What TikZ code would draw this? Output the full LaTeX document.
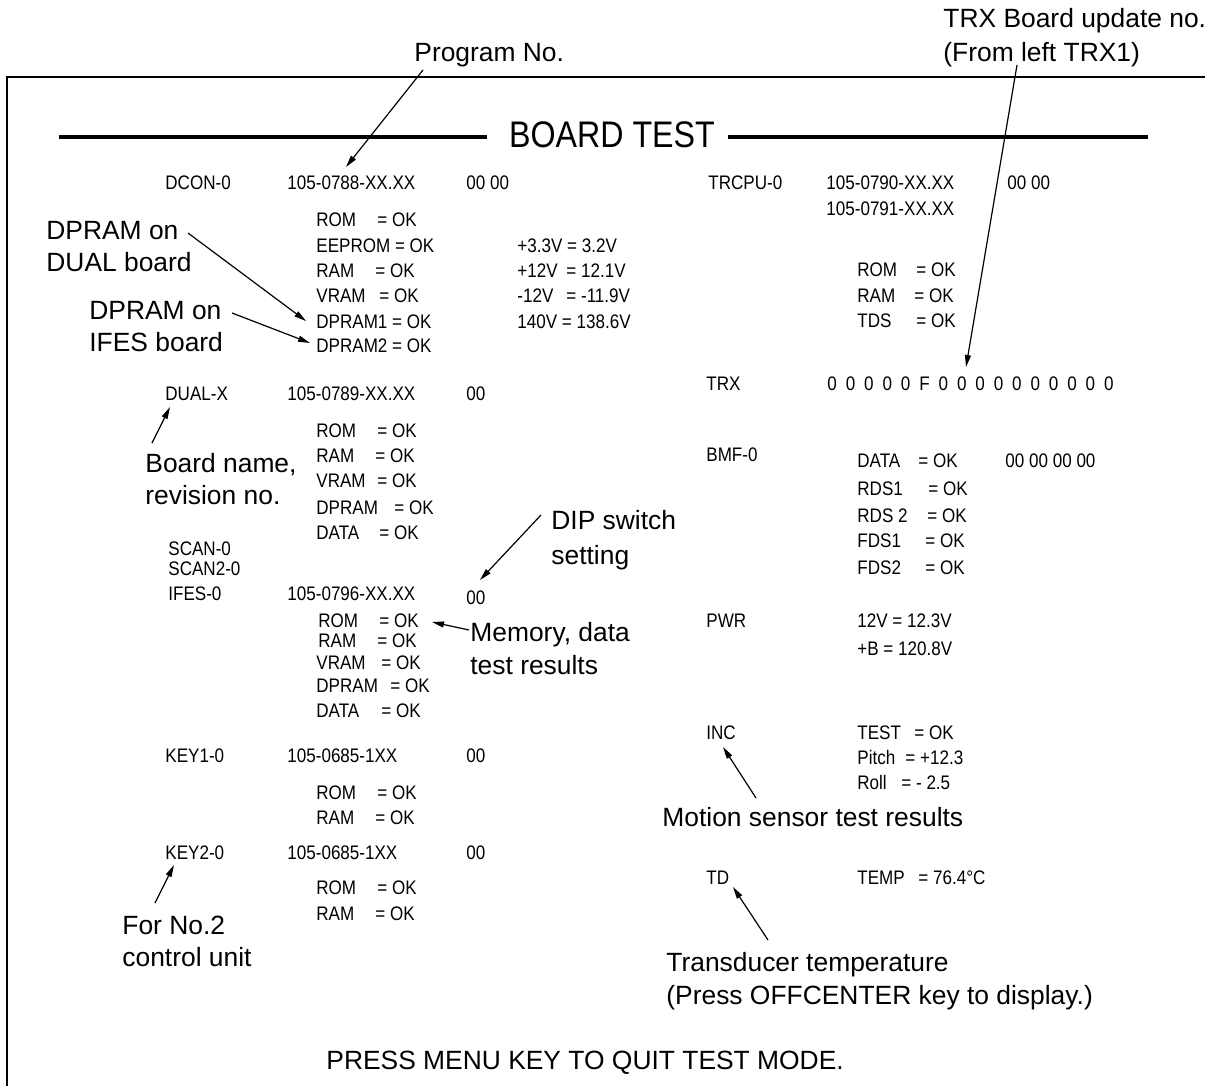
\documentclass[tikz,border=0pt]{standalone}
\usepackage{fontspec}
\setmainfont{Liberation Sans}
\newfontfamily\scrfont[FakeStretch=0.87]{Liberation Sans}
\usetikzlibrary{arrows.meta}

\newdimen\pxunit \pxunit=0.5pt
\newcommand{\kv}[3]{\makebox[#2\pxunit][l]{#1}= #3}

\begin{document}
\begin{tikzpicture}[x=0.5pt, y=-0.5pt,
    scr/.style={anchor=base west, inner sep=0pt, yshift=-3.5pt, font=\scrfont\fontsize{9.8}{12}\selectfont},
    note/.style={anchor=base west, inner sep=0pt, yshift=-4.7pt, font=\fontsize{13.2}{16}\selectfont},
    pointer/.style={-{Triangle[length=6pt,width=3pt]}, line width=0.6pt},
    rule/.style={line width=2pt}]
    \useasboundingbox (0,0) rectangle (1205,1086);

    % Frame
    \draw[line width=0.75pt] (7,1086) -- (7,77) -- (1205,77);

    % Title
    \node[anchor=base, inner sep=0pt, yshift=-6.6pt, font=\scrfont\fontsize{18.5}{22}\selectfont] (title) at (612,134) {BOARD TEST};
    \draw[rule] (59,137) -- (487,137);
    \draw[rule] (728,137) -- (1148,137);

    % DCON board
    \node[scr] (dcon) at (165,183) {DCON-0};
    \node[scr] (dconpn) at (287,183) {105-0788-XX.XX};
    \node[scr] (dconsw) at (466,183) {00 00};
    \node[scr] (dconrom) at (316,220) {\kv{ROM}{61}{OK}};
    \node[scr] (dconeep) at (316,245) {EEPROM = OK};
    \node[scr] (dconram) at (316,270) {\kv{RAM}{59}{OK}};
    \node[scr] (dconvram) at (316,295) {\kv{VRAM}{63}{OK}};
    \node[scr] (dcondp1) at (316,321) {DPRAM1 = OK};
    \node[scr] (dcondp2) at (316,345) {DPRAM2 = OK};
    \node[scr] (volta) at (517,245) {+3.3V = 3.2V};
    \node[scr] (voltb) at (517,270) {\kv{+12V}{49}{12.1V}};
    \node[scr] (voltc) at (517,295) {\kv{-12V}{49}{-11.9V}};
    \node[scr] (voltd) at (517,321) {140V = 138.6V};

    % DUAL board
    \node[scr] (dual) at (165,393) {DUAL-X};
    \node[scr] (dualpn) at (287,393) {105-0789-XX.XX};
    \node[scr] (dualsw) at (466,393) {00};
    \node[scr] (dualrom) at (316,430) {\kv{ROM}{61}{OK}};
    \node[scr] (dualram) at (316,455) {\kv{RAM}{59}{OK}};
    \node[scr] (dualvram) at (316,480) {\kv{VRAM}{61}{OK}};
    \node[scr] (dualdp) at (316,507) {\kv{DPRAM}{78}{OK}};
    \node[scr] (dualdata) at (316,532) {\kv{DATA}{63}{OK}};

    % SCAN / IFES board
    \node[scr] (scan) at (168,548) {SCAN-0};
    \node[scr] (scantwo) at (168,568) {SCAN2-0};
    \node[scr] (ifes) at (168,593) {IFES-0};
    \node[scr] (ifespn) at (287,593) {105-0796-XX.XX};
    \node[scr] (ifessw) at (466,597) {00};
    \node[scr] (ifesrom) at (318,620) {\kv{ROM}{61}{OK}};
    \node[scr] (ifesram) at (318,640) {\kv{RAM}{59}{OK}};
    \node[scr] (ifesvram) at (316,662) {\kv{VRAM}{65}{OK}};
    \node[scr] (ifesdp) at (316,685) {\kv{DPRAM}{74}{OK}};
    \node[scr] (ifesdata) at (316,710) {\kv{DATA}{65}{OK}};

    % KEY boards
    \node[scr] (keyone) at (165,755) {KEY1-0};
    \node[scr] (keyonepn) at (287,755) {105-0685-1XX};
    \node[scr] (keyonesw) at (466,755) {00};
    \node[scr] (keyonerom) at (316,792) {\kv{ROM}{61}{OK}};
    \node[scr] (keyoneram) at (316,817) {\kv{RAM}{59}{OK}};
    \node[scr] (keytwo) at (165,852) {KEY2-0};
    \node[scr] (keytwopn) at (287,852) {105-0685-1XX};
    \node[scr] (keytwosw) at (466,852) {00};
    \node[scr] (keytworom) at (316,887) {\kv{ROM}{61}{OK}};
    \node[scr] (keytworam) at (316,913) {\kv{RAM}{59}{OK}};

    % TRCPU board
    \node[scr] (trcpu) at (708,183) {TRCPU-0};
    \node[scr] (trcpupn) at (826,183) {105-0790-XX.XX};
    \node[scr] (trcpupnb) at (826,208) {105-0791-XX.XX};
    \node[scr] (trcpusw) at (1007,183) {00 00};
    \node[scr] (trcpurom) at (857,269) {\kv{ROM}{59}{OK}};
    \node[scr] (trcpuram) at (857,295) {\kv{RAM}{57}{OK}};
    \node[scr] (trcputds) at (857,320) {\kv{TDS}{59}{OK}};

    % TRX boards
    \node[scr] (trx) at (706,383) {TRX};
    \node[scr] (trxval) at (827,383) {\spaceskip=4.45pt 0 0 0 0 0 F 0 0 0 0 0 0 0 0 0 0};

    % BMF board
    \node[scr] (bmf) at (706,454) {BMF-0};
    \node[scr] (bmfdata) at (857,460) {\kv{DATA}{61}{OK}};
    \node[scr] (bmfsw) at (1005,460) {00 00 00 00};
    \node[scr] (bmfrdsa) at (857,488) {\kv{RDS1}{71}{OK}};
    \node[scr] (bmfrdsb) at (857,515) {\kv{RDS 2}{70}{OK}};
    \node[scr] (bmffdsa) at (857,540) {\kv{FDS1}{68}{OK}};
    \node[scr] (bmffdsb) at (857,567) {\kv{FDS2}{68}{OK}};

    % PWR, INC, TD
    \node[scr] (pwr) at (706,620) {PWR};
    \node[scr] (pwra) at (857,620) {12V = 12.3V};
    \node[scr] (pwrb) at (857,648) {+B = 120.8V};
    \node[scr] (inc) at (706,732) {INC};
    \node[scr] (inctest) at (857,732) {\kv{TEST}{57}{OK}};
    \node[scr] (incpitch) at (857,757) {\kv{Pitch}{48}{+12.3}};
    \node[scr] (incroll) at (857,782) {\kv{Roll}{44}{- 2.5}};
    \node[scr] (td) at (706,877) {TD};
    \node[scr] (tdtemp) at (857,877) {\kv{TEMP}{61}{76.4°C}};

    % Callouts
    \node[note] (prognote) at (414,52) {Program No.};
    \node[note] (trxnote) at (943,18) {TRX Board update no.};
    \node[note] (trxnoteb) at (943,52) {(From left TRX1)};
    \node[note] (dualnote) at (46,230) {DPRAM on};
    \node[note] (dualnoteb) at (46,262) {DUAL board};
    \node[note] (ifesnote) at (89,310) {DPRAM on};
    \node[note] (ifesnoteb) at (89,342) {IFES board};
    \node[note] (namenote) at (145,463) {Board name,};
    \node[note] (namenoteb) at (145,495) {revision no.};
    \node[note] (dipnote) at (551,520) {DIP switch};
    \node[note] (dipnoteb) at (551,555) {setting};
    \node[note] (memnote) at (470,632) {Memory, data};
    \node[note] (memnoteb) at (470,665) {test results};
    \node[note] (keynote) at (122,925) {For No.2};
    \node[note] (keynoteb) at (122,957) {control unit};
    \node[note] (motionnote) at (662,817) {Motion sensor test results};
    \node[note] (tdnote) at (666,962) {Transducer temperature};
    \node[note] (tdnoteb) at (666,995) {(Press OFFCENTER key to display.)};
    \node[note] (quit) at (326,1060) {PRESS MENU KEY TO QUIT TEST MODE.};

    % Pointer ends
    \coordinate (progT) at (423,70);   \coordinate (progH) at (346,167);
    \coordinate (trxT) at (1017,65);   \coordinate (trxH) at (966,367);
    \coordinate (dualT) at (188,233);  \coordinate (dualH) at (306,321);
    \coordinate (ifesT) at (232,313);  \coordinate (ifesH) at (310,343);
    \coordinate (nameT) at (152,443);  \coordinate (nameH) at (170,407);
    \coordinate (dipT) at (541,515);   \coordinate (dipH) at (480,580);
    \coordinate (memT) at (469,630);   \coordinate (memH) at (432,622);
    \coordinate (keyT) at (155,903);   \coordinate (keyH) at (174,865);
    \coordinate (motionT) at (756,798); \coordinate (motionH) at (723,747);
    \coordinate (tdT) at (768,940);    \coordinate (tdH) at (733,887);

    \draw[pointer] (progT) -- (progH);
    \draw[pointer] (trxT) -- (trxH);
    \draw[pointer] (dualT) -- (dualH);
    \draw[pointer] (ifesT) -- (ifesH);
    \draw[pointer] (nameT) -- (nameH);
    \draw[pointer] (dipT) -- (dipH);
    \draw[pointer] (memT) -- (memH);
    \draw[pointer] (keyT) -- (keyH);
    \draw[pointer] (motionT) -- (motionH);
    \draw[pointer] (tdT) -- (tdH);

\end{tikzpicture}
\end{document}
